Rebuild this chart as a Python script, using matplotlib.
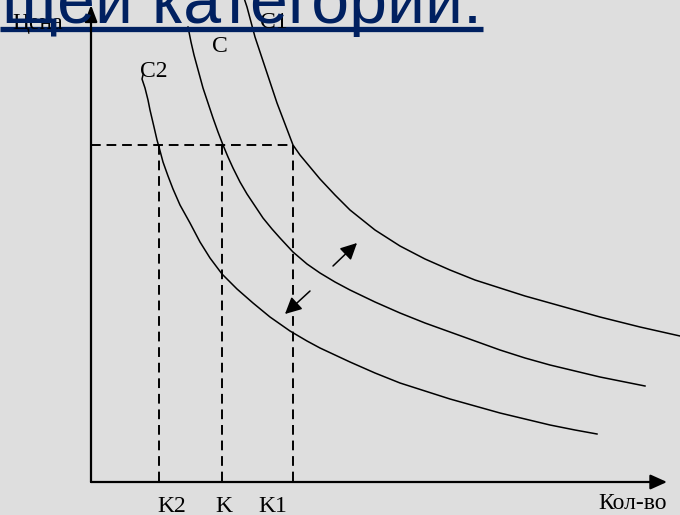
import matplotlib
matplotlib.use("Agg")
import matplotlib.pyplot as plt

# curve points (pixels, y down)
c2_x = [143, 142, 145, 148, 150, 154, 157, 159, 163, 168, 173, 180, 190, 200, 210, 222, 237, 253, 270,
        290, 307, 320, 350, 375, 400, 425, 450, 475, 500, 525, 550, 575, 597]
c2_y = [75, 79, 88, 100, 110, 127, 140, 147, 162, 176, 189, 205, 223, 242, 258, 274, 289, 303, 317,
        331, 341, 348, 362, 373, 383, 391, 399, 406, 413, 419, 425, 430, 434]

c_x = [188, 191, 194, 197, 200, 203, 208, 213, 218, 223, 228, 233, 240, 247, 255, 263, 272, 280, 293,
       307, 320, 335, 350, 375, 400, 425, 450, 475, 500, 525, 550, 575, 600, 625, 645]
c_y = [27, 42, 55, 66, 77, 88, 103, 118, 132, 145, 157, 168, 182, 194, 206, 218, 229, 238, 252,
       264, 273, 282, 290, 302, 313, 323, 332, 341, 350, 358, 365, 371, 377, 382, 386]

c1_x = [243, 247, 251, 255, 260, 265, 271, 277, 285, 293, 300, 310, 320, 335, 350, 375, 400, 425,
        450, 475, 500, 525, 550, 575, 600, 640, 680]
c1_y = [-5, 7, 22, 37, 52, 67, 85, 103, 124, 145, 155, 167, 179, 195, 210, 230, 246, 259,
        270, 280, 288, 296, 303, 310, 317, 327, 336]

price_level = 145
k_x = [159, 222, 293]
k_labels = ["K2", "K", "K1"]
curve_labels = ["C2", "C", "C1"]
curve_label_pos = [(140, 77), (212, 52), (260, 28)]

axis_x0, axis_y0 = 91, 482
axis_x1, axis_y1 = 667, 5

shifts = [((333, 266), (357, 243)), ((310, 291), (285, 314))]

bg = "#dedede"
serif = ["Liberation Serif", "DejaVu Serif"]

fig = plt.figure(figsize=(6.8, 5.15), dpi=100, facecolor=bg)
ax = fig.add_axes([0, 0, 1, 1])
ax.set_facecolor(bg)
ax.set_xlim(0, 680)
ax.set_ylim(515, 0)
ax.axis("off")

# axes with arrows
ax.annotate("", xy=(axis_x0, axis_y1), xytext=(axis_x0, axis_y0),
            arrowprops=dict(arrowstyle="-|>,head_length=1.0,head_width=0.38", mutation_scale=10,
                            color="black", lw=1.6, shrinkA=0, shrinkB=0))
ax.annotate("", xy=(axis_x1, axis_y0), xytext=(axis_x0, axis_y0),
            arrowprops=dict(arrowstyle="-|>,head_length=1.0,head_width=0.45", mutation_scale=10,
                            color="black", lw=1.6, shrinkA=0, shrinkB=0))

# dashed guides
ax.plot([axis_x0, k_x[-1]], [price_level, price_level], color="black", lw=1.4, dashes=(5, 3))
for kx in k_x:
    ax.plot([kx, kx], [price_level, axis_y0], color="black", lw=1.4, dashes=(5, 3))

# curves
for xs, ys in [(c2_x, c2_y), (c_x, c_y), (c1_x, c1_y)]:
    ax.plot(xs, ys, color="black", lw=1.1)

# shift arrows
for tail, tip in shifts:
    ax.annotate("", xy=tip, xytext=tail,
                arrowprops=dict(arrowstyle="-|>,head_length=1.0,head_width=0.5", mutation_scale=10,
                                color="black", lw=1.1, shrinkA=0, shrinkB=0))

for lab, (lx, ly) in zip(curve_labels, curve_label_pos):
    ax.text(lx, ly, lab, fontsize=17, family=serif, ha="left", va="baseline")

for kx, lab in zip([172, 224, 273], k_labels):
    ax.text(kx, 512, lab, fontsize=17, family=serif, ha="center", va="baseline")

ax.text(667, 509, "Кол-во", fontsize=17, family=serif, ha="right", va="baseline")
ax.text(12, 29, "Цена", fontsize=17, family=serif, ha="left", va="baseline")

# slide title fragment
ax.text(482, 23, "щей категории.", fontsize=49, family=["Liberation Sans", "DejaVu Sans"],
        color="#002060", ha="right", va="baseline")
ax.plot([0, 483], [28.5, 28.5], color="#002060", lw=3.8, solid_capstyle="butt")

fig.savefig("out.png", dpi=100, facecolor=bg)
